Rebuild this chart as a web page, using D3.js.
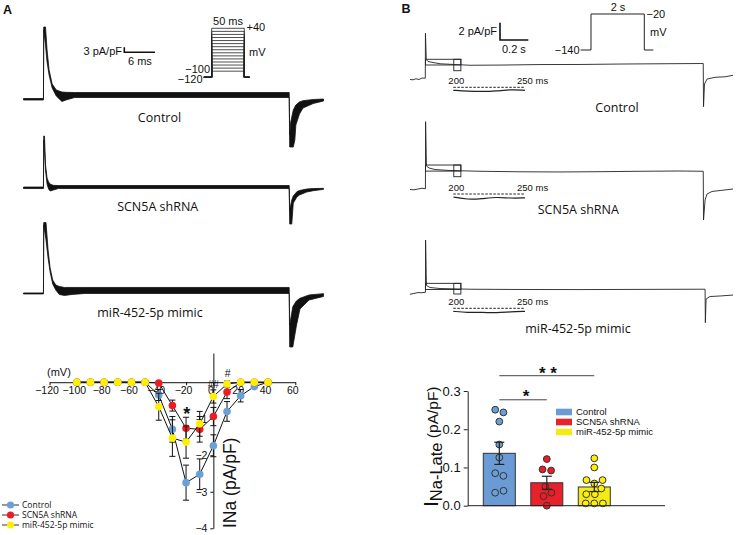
<!DOCTYPE html>
<html>
<head>
<meta charset="utf-8">
<script src="https://cdn.jsdelivr.net/npm/d3@7"></script>
<style>
  body { margin: 0; background: #fff; }
  svg { display: block; }
  text { font-family: "Liberation Sans", Arial, sans-serif; fill: #111; }
  .cal { font-family: "Open Sans", sans-serif; }
</style>
</head>
<body>
<div id="chart"></div>
<script>
// ---- I-V curve (panel A, bottom) ----
var ivVoltage = [-100, -90, -80, -70, -60, -50, -40, -30, -20, -10, 0, 10, 20, 30, 40];
var ivControl = [0, 0, 0, 0, 0, 0, -0.35, -1.29, -2.75, -2.52, -1.74, -0.80, -0.37, -0.12, 0];
var ivControlErr = [0, 0, 0, 0, 0, 0, 0.15, 0.35, 0.48, 0.42, 0.3, 0.27, 0.17, 0.06, 0];
var ivShrna = [0, 0, 0, 0, 0, 0, -0.02, -0.64, -1.26, -1.29, -0.94, -0.27, 0, 0, 0];
var ivShrnaErr = [0, 0, 0, 0, 0, 0, 0.05, 0.15, 0.3, 0.35, 0.25, 0.18, 0, 0, 0];
var ivMimic = [0, 0, 0, 0, 0, 0, -0.67, -1.53, -1.64, -1.14, -0.39, -0.05, 0, 0, 0];
var ivMimicErr = [0, 0, 0, 0, 0, 0, 0.37, 0.5, 0.44, 0.34, 0.18, 0.08, 0, 0, 0];
var ivTicks = [-120, -100, -80, -60, -40, -20, 0, 20, 40, 60];

// ---- late sodium current (panel B, bottom) ----
var lateGroups = ['Control', 'SCN5A shRNA', 'miR-452-5p mimic'];
var lateMean = [0.137, 0.060, 0.049];
var lateSem = [0.029, 0.017, 0.012];
var lateControl = [0.251, 0.244, 0.220, 0.160, 0.126, 0.085, 0.078, 0.039, 0.034];
var lateShrna = [0.122, 0.095, 0.092, 0.050, 0.034, 0.025, 0.0];
var lateMimic = [0.124, 0.100, 0.067, 0.067, 0.058, 0.045, 0.030, 0.030, 0.006, 0.006, 0.006];
var lateTicks = [0, 0.1, 0.2, 0.3];

// ---- peak current families, panel A (ms, pA/pF; upper / lower envelope) ----
var aCtrlT = [0, 3.9, 3.95, 4.3, 4.6, 5.0, 5.6, 6.4, 7.5, 8.3, 10, 51.9, 52.0, 52.2, 52.7, 53.0, 53.2, 53.9, 54.6, 56.6, 58.6];
var aCtrlHi = [0.3, 0.3, 43.2, 43.2, 29.4, 17.4, 9.0, 5.4, 4.2, 4.0, 3.9, 3.9, -21.6, -13.8, -6.6, -4.8, -3.6, -1.8, -1.0, -0.3, 0];
var aCtrlLo = [-0.6, -0.6, 41.4, 32.4, 22.2, 14.4, 6.6, 1.8, -1.5, -0.6, 0.9, 0.9, -28.8, -28.8, -28.8, -24.6, -15.6, -9.0, -5.4, -2.7, -1.2];
var aShT = [0, 3.9, 3.95, 4.1, 4.3, 4.6, 4.9, 5.2, 5.8, 6.8, 51.9, 52.0, 52.4, 52.7, 53.4, 53.9, 55.3, 56.6, 58.6];
var aShHi = [0.4, 0.4, 31.0, 31.0, 13.6, 5.8, 3.4, 2.2, 1.4, 1.3, 1.3, -13.4, -7.4, -5.0, -2.4, -1.7, -0.8, -0.5, -0.4];
var aShLo = [-0.5, -0.5, 28.6, 22.6, 10.6, 2.2, -0.8, -2.0, -1.4, -0.5, -0.5, -21.8, -21.8, -9.2, -5.6, -4.4, -2.6, -1.8, -1.0];
var aMiT = [0, 3.9, 3.95, 4.4, 4.8, 5.2, 5.7, 6.3, 7.0, 8.0, 9.5, 12, 51.9, 52.0, 52.6, 53.3, 54.0, 55.8, 58.6];
var aMiHi = [0.2, 0.2, 42.4, 42.4, 26.0, 15.2, 8.0, 5.0, 4.1, 3.5, 3.5, 3.5, 3.5, -19.0, -8.0, -4.6, -3.0, -1.0, -0.2];
var aMiLo = [-0.4, -0.4, 41.0, 32.0, 21.2, 12.8, 5.6, 2.0, -0.7, -1.3, -0.7, -0.1, -0.1, -32.2, -32.2, -19.6, -9.4, -4.0, -1.9];

// ---- late current traces, panel B (s, pA/pF) ----
var bCtrlT = [0, 0.021, 0.042, 0.064, 0.085, 0.108, 0.109, 0.115, 0.127, 0.155, 0.212, 0.296, 0.423, 0.635, 0.917, 1.2, 1.482, 1.764, 2.047, 2.069, 2.071, 2.078, 2.096, 2.152, 2.223, 2.279];
var bCtrlI = [-0.02, -0.06, 0.06, -0.02, 0.15, 0.12, 5.31, 2.28, 2.05, 1.96, 1.79, 1.72, 1.62, 1.64, 1.70, 1.71, 1.76, 1.79, 1.82, 1.82, -3.16, -0.54, 0.03, 0.23, 0.29, 0.46];
var bShT = [0, 0.028, 0.056, 0.085, 0.109, 0.110, 0.116, 0.134, 0.176, 0.282, 0.494, 0.776, 1.058, 1.341, 1.623, 1.905, 2.069, 2.071, 2.082, 2.096, 2.131, 2.188, 2.279];
var bShI = [-0.02, -0.06, 0.03, 0.12, 0.06, 7.80, 2.69, 2.46, 2.28, 2.17, 2.08, 2.02, 2.0, 2.03, 2.08, 2.11, 2.08, -3.54, -1.23, -0.54, -0.25, -0.14, 0.03];
var bMiT = [0, 0.028, 0.056, 0.078, 0.109, 0.110, 0.116, 0.141, 0.212, 0.423, 0.776, 1.2, 1.623, 2.047, 2.082, 2.084, 2.089, 2.117, 2.188, 2.279];
var bMiI = [-0.03, 0.06, 0.17, 0.14, 0.20, 6.23, 0.98, 0.75, 0.63, 0.55, 0.52, 0.51, 0.53, 0.55, 0.55, -3.31, -0.58, -0.29, -0.23, -0.12];
// zoomed 200-250 ms windows
var insetT = [200, 210, 220, 230, 240, 250];
var insetCtrl = [0, -0.1, -0.15, -0.1, 0.1, 0];
var insetSh = [0, -0.3, -0.2, 0, -0.15, -0.1];
var insetMi = [0, -0.15, -0.1, -0.2, -0.05, 0];

var blue = '#6b9fd8', red = '#ec1c24', yellow = '#fff000';
var barBlue = '#6a9bd5', barRed = '#e8212a', barYellow = '#f3ea18';

var W = 736, H = 535;
var svg = d3.select('#chart').append('svg').attr('width', W).attr('height', H);
svg.append('rect').attr('width', W).attr('height', H).attr('fill', '#fff');

function zip(t, a, b) {
  return t.map(function(d, i) { return {t: d, a: a[i], b: b ? b[i] : null}; });
}

// ================= panel A traces =================
svg.append('text').attr('x', 3).attr('y', 13.5).attr('font-size', 12.5).attr('font-weight', 'bold').text('A');

var tA = d3.scaleLinear().domain([0, 58.6]).range([23.5, 323.5]);
var rowsA = [
  {base: 99, t: aCtrlT, hi: aCtrlHi, lo: aCtrlLo, label: 'Control', lx: 159.5, ly: 121.5},
  {base: 187.7, t: aShT, hi: aShHi, lo: aShLo, label: 'SCN5A shRNA', lx: 157.7, ly: 210.5},
  {base: 293.3, t: aMiT, hi: aMiHi, lo: aMiLo, label: 'miR-452-5p mimic', lx: 150, ly: 317}
];
rowsA.forEach(function(r) {
  var y = d3.scaleLinear().domain([0, 10]).range([r.base, r.base - 16.67]);
  r.y = y;
  var area = d3.area().x(function(d) { return tA(d.t); })
    .y0(function(d) { return y(d.b); }).y1(function(d) { return y(d.a); });
  svg.append('path').datum(zip(r.t, r.hi, r.lo)).attr('d', area)
    .attr('fill', '#111').attr('stroke', '#111').attr('stroke-width', 0.8).attr('stroke-linejoin', 'round');
  svg.append('text').attr('class', 'cal').attr('x', r.lx).attr('y', r.ly)
    .attr('text-anchor', 'middle').attr('font-size', 12.5).text(r.label);
});

// scale bar A: 3 pA/pF, 6 ms
var sbx = 124.3, sby = 52.3;
svg.append('path').attr('fill', 'none').attr('stroke', '#111').attr('stroke-width', 1.6)
  .attr('d', 'M' + sbx + ',' + (sby - (rowsA[0].y(0) - rowsA[0].y(3))) + 'V' + sby + 'H' + (sbx + tA(6) - tA(0)));
svg.append('text').attr('x', 122).attr('y', 54.5).attr('text-anchor', 'end').attr('font-size', 11).text('3 pA/pF');
svg.append('text').attr('x', 128).attr('y', 65).attr('font-size', 11).text('6 ms');

// voltage protocol A
var pAx = d3.scaleLinear().domain([0, 50]).range([211.7, 244.3]);
var pAy = d3.scaleLinear().domain([-120, 40]).range([77.3, 28.3]);
var protoA = svg.append('g').attr('fill', 'none').attr('stroke', '#222').attr('stroke-width', 0.8);
ivVoltage.forEach(function(v) {
  protoA.append('path').attr('d', d3.line()([
    [pAx(-12), pAy(-120)], [pAx(0), pAy(-120)], [pAx(0), pAy(v)], [pAx(50), pAy(v)],
    [pAx(50), pAy(-120)], [pAx(58), pAy(-120)]
  ]));
});
svg.append('text').attr('x', 228).attr('y', 25).attr('text-anchor', 'middle').attr('font-size', 11).text('50 ms');
svg.append('text').attr('x', 246.5).attr('y', 31).attr('font-size', 11).text('+40');
svg.append('text').attr('x', 249).attr('y', 56).attr('font-size', 11).text('mV');
svg.append('text').attr('x', 210).attr('y', 73).attr('text-anchor', 'end').attr('font-size', 11).text('\u2212100');
svg.append('text').attr('x', 202.5).attr('y', 82.5).attr('text-anchor', 'end').attr('font-size', 11).text('\u2212120');

// ================= panel B traces =================
svg.append('text').attr('x', 401.5).attr('y', 13).attr('font-size', 12.5).attr('font-weight', 'bold').text('B');

var tB = d3.scaleLinear().domain([0, 2.279]).range([410, 733]);
var insetX = d3.scaleLinear().domain([200, 250]).range([453.3, 525]);
var rowsB = [
  {base: 79.3, t: bCtrlT, i: bCtrlI, boxTop: 2.31, boxLow: 1.65, boxBot: 0.99, dash: 87.3, ins: insetCtrl, label: 'Control', lx: 617, ly: 111.5},
  {base: 189.3, t: bShT, i: bShI, boxTop: 2.80, boxLow: 2.1, boxBot: 1.45, dash: 194, ins: insetSh, label: 'SCN5A shRNA', lx: 578.3, ly: 213.5},
  {base: 294, t: bMiT, i: bMiI, boxTop: 1.23, boxLow: 0.52, boxBot: 0, dash: 308.3, ins: insetMi, label: 'miR-452-5p mimic', lx: 578, ly: 332.5}
];
var stepStart = 0.109;
rowsB.forEach(function(r) {
  var y = d3.scaleLinear().domain([0, 1]).range([r.base, r.base - 8.67]);
  r.y = y;
  var line = d3.line().x(function(d) { return tB(d.t); }).y(function(d) { return y(d.a); });
  svg.append('path').datum(zip(r.t, r.i)).attr('d', line)
    .attr('fill', 'none').attr('stroke', '#222').attr('stroke-width', 0.9);
  // boxes marking 0-250 ms and 200-250 ms of the step
  svg.append('rect').attr('x', tB(stepStart)).attr('y', y(r.boxTop))
    .attr('width', tB(stepStart + 0.25) - tB(stepStart)).attr('height', y(r.boxLow) - y(r.boxTop))
    .attr('fill', 'none').attr('stroke', '#222').attr('stroke-width', 0.9);
  svg.append('rect').attr('x', tB(stepStart + 0.2)).attr('y', y(r.boxTop))
    .attr('width', tB(stepStart + 0.25) - tB(stepStart + 0.2)).attr('height', y(r.boxBot) - y(r.boxTop))
    .attr('fill', 'none').attr('stroke', '#222').attr('stroke-width', 0.9);
  // zoomed window
  svg.append('text').attr('x', insetX(200) + 3).attr('y', r.dash - 3).attr('text-anchor', 'middle').attr('font-size', 9.5).text('200');
  svg.append('text').attr('x', insetX(250) - 8).attr('y', r.dash - 3).attr('font-size', 9.5).text('250 ms');
  svg.append('line').attr('x1', insetX(200)).attr('x2', insetX(250)).attr('y1', r.dash).attr('y2', r.dash)
    .attr('stroke', '#222').attr('stroke-width', 1).attr('stroke-dasharray', '2.5,1.5');
  var iy = d3.scaleLinear().domain([0, 1]).range([r.dash + 3, r.dash + 3 - 8.67]);
  svg.append('path').datum(zip(insetT, r.ins))
    .attr('d', d3.line().curve(d3.curveBasis).x(function(d) { return insetX(d.t); }).y(function(d) { return iy(d.a); }))
    .attr('fill', 'none').attr('stroke', '#222').attr('stroke-width', 1.2);
  svg.append('text').attr('class', 'cal').attr('x', r.lx).attr('y', r.ly)
    .attr('text-anchor', 'middle').attr('font-size', 12.5).text(r.label);
});

// scale bar B: 2 pA/pF, 0.2 s
var sb2x = 500, sb2y = 40;
svg.append('path').attr('fill', 'none').attr('stroke', '#111').attr('stroke-width', 1.6)
  .attr('d', 'M' + sb2x + ',' + (sb2y - (rowsB[0].y(0) - rowsB[0].y(2))) + 'V' + sb2y + 'H' + (sb2x + tB(0.2) - tB(0)));
svg.append('text').attr('x', 497).attr('y', 34.5).attr('text-anchor', 'end').attr('font-size', 11).text('2 pA/pF');
svg.append('text').attr('x', 502).attr('y', 52.5).attr('font-size', 11).text('0.2 s');

// voltage protocol B
var pBx = d3.scaleLinear().domain([0, 2]).range([591, 644.3]);
var pBy = d3.scaleLinear().domain([-140, -20]).range([50, 14]);
svg.append('path').attr('fill', 'none').attr('stroke', '#222').attr('stroke-width', 1)
  .attr('d', d3.line()([[pBx(-0.39), pBy(-140)], [pBx(0), pBy(-140)], [pBx(0), pBy(-20)],
    [pBx(2), pBy(-20)], [pBx(2), pBy(-140)], [pBx(2.34), pBy(-140)]]));
svg.append('text').attr('x', 618).attr('y', 11).attr('text-anchor', 'middle').attr('font-size', 11).text('2 s');
svg.append('text').attr('x', 646.5).attr('y', 17.5).attr('font-size', 11).text('\u221220');
svg.append('text').attr('x', 650).attr('y', 35.5).attr('font-size', 11).text('mV');
svg.append('text').attr('x', 579.5).attr('y', 53.5).attr('text-anchor', 'end').attr('font-size', 11).text('\u2212140');

// ================= I-V plot =================
var x = d3.scaleLinear().domain([-120, 60]).range([49.5, 295.3]);
var y = d3.scaleLinear().domain([-4, 0.8]).range([528.3, 353]);

var yAx = svg.append('g').attr('transform', 'translate(' + x(0) + ',0)')
  .call(d3.axisLeft(y).tickValues([-1, -2, -3, -4]).tickFormat(d3.format('d')).tickSize(3).tickSizeOuter(0));
yAx.selectAll('text').attr('font-size', 10.5).attr('font-family', '"Liberation Sans", Arial, sans-serif').attr('fill', '#111');
yAx.selectAll('path,line').attr('stroke', '#111');

var xAx = svg.append('g').attr('transform', 'translate(0,' + y(0) + ')')
  .call(d3.axisBottom(x).tickValues(ivTicks).tickSize(3).tickSizeOuter(0));
xAx.selectAll('text').attr('font-size', 10.5).attr('dx', '-3').attr('dy', '0.55em')
  .attr('font-family', '"Liberation Sans", Arial, sans-serif').attr('fill', '#111');
xAx.selectAll('path,line').attr('stroke', '#111');

svg.append('text').attr('x', 47).attr('y', 376).attr('font-size', 11).text('(mV)');

var ivSeries = [
  {v: ivControl, e: ivControlErr, c: blue, name: 'Control'},
  {v: ivShrna, e: ivShrnaErr, c: red, name: 'SCN5A shRNA'},
  {v: ivMimic, e: ivMimicErr, c: yellow, name: 'miR-452-5p mimic'}
];
ivSeries.forEach(function(s) {
  var pts = ivVoltage.map(function(v, i) { return {v: v, m: s.v[i], e: s.e[i]}; });
  svg.append('path').datum(pts)
    .attr('d', d3.line().x(function(d) { return x(d.v); }).y(function(d) { return y(d.m); }))
    .attr('fill', 'none').attr('stroke', '#111').attr('stroke-width', 1);
  var eb = svg.append('g').attr('stroke', '#111').attr('stroke-width', 1);
  pts.filter(function(d) { return d.e > 0.06; }).forEach(function(d) {
    var cx = x(d.v);
    eb.append('line').attr('x1', cx).attr('x2', cx).attr('y1', y(d.m - d.e)).attr('y2', y(d.m + d.e));
    eb.append('line').attr('x1', cx - 3).attr('x2', cx + 3).attr('y1', y(d.m - d.e)).attr('y2', y(d.m - d.e));
    eb.append('line').attr('x1', cx - 3).attr('x2', cx + 3).attr('y1', y(d.m + d.e)).attr('y2', y(d.m + d.e));
  });
  svg.append('g').selectAll('circle').data(pts).enter().append('circle')
    .attr('cx', function(d) { return x(d.v); }).attr('cy', function(d) { return y(d.m); })
    .attr('r', 3.8).attr('fill', s.c);
});

svg.append('text').attr('x', 186.7).attr('y', 419.5).attr('text-anchor', 'middle').attr('font-size', 18).attr('font-weight', 'bold').text('*');
svg.append('text').attr('x', 213.3).attr('y', 388).attr('text-anchor', 'middle').attr('font-size', 10).text('##');
svg.append('text').attr('x', 227.7).attr('y', 377).attr('text-anchor', 'middle').attr('font-size', 10.5).text('#');

svg.append('text').attr('transform', 'translate(235.5,528) rotate(-90)').attr('font-size', 17.5).text('INa (pA/pF)');

// I-V legend
ivSeries.forEach(function(s, i) {
  var ly = 505 + i * 10;
  svg.append('line').attr('x1', 2).attr('x2', 19).attr('y1', ly).attr('y2', ly).attr('stroke', '#333').attr('stroke-width', 1);
  svg.append('circle').attr('cx', 10.5).attr('cy', ly).attr('r', 3.6).attr('fill', s.c);
  svg.append('text').attr('class', 'cal').attr('x', 22).attr('y', ly + 3).attr('font-size', 8.5).text(s.name);
});

// ================= late current bar chart =================
var bx = d3.scaleBand().domain(lateGroups).range([483.3, 610.3]).paddingInner(0.326).paddingOuter(0);
var by = d3.scaleLinear().domain([0, 0.3]).range([505.7, 391]);
var barColors = [barBlue, barRed, barYellow];
var dotColors = [blue, red, yellow];
var lateDots = [lateControl, lateShrna, lateMimic];

lateGroups.forEach(function(g, i) {
  svg.append('rect').attr('x', bx(g)).attr('y', by(lateMean[i]))
    .attr('width', bx.bandwidth()).attr('height', by(0) - by(lateMean[i]))
    .attr('fill', barColors[i]).attr('stroke', '#333').attr('stroke-width', 1);
});

lateGroups.forEach(function(g, i) {
  var cx = bx(g) + bx.bandwidth() / 2;
  var nodes = lateDots[i].map(function(v) { return {x: cx, y: by(v), fy: by(v)}; });
  var sim = d3.forceSimulation(nodes)
    .force('x', d3.forceX(cx).strength(0.08))
    .force('c', d3.forceCollide(4.3))
    .stop();
  for (var k = 0; k < 250; k++) sim.tick();
  svg.append('g').selectAll('circle').data(nodes).enter().append('circle')
    .attr('cx', function(d) { return d.x; }).attr('cy', function(d) { return d.fy; })
    .attr('r', 3.4).attr('fill', dotColors[i]).attr('stroke', '#333').attr('stroke-width', 1);
  // error bar
  var eb = svg.append('g').attr('stroke', '#222').attr('stroke-width', 1.2);
  var top = by(lateMean[i] + lateSem[i]), bot = by(lateMean[i] - lateSem[i]);
  eb.append('line').attr('x1', cx).attr('x2', cx).attr('y1', top).attr('y2', bot);
  eb.append('line').attr('x1', cx - 5).attr('x2', cx + 5).attr('y1', top).attr('y2', top);
  eb.append('line').attr('x1', cx - 5).attr('x2', cx + 5).attr('y1', bot).attr('y2', bot);
});

var byAx = svg.append('g').attr('transform', 'translate(467.7,0)')
  .call(d3.axisLeft(by).tickValues(lateTicks).tickFormat(d3.format('.1f')).tickSize(4).tickSizeOuter(0));
byAx.selectAll('text').attr('font-size', 13).attr('font-family', '"Liberation Sans", Arial, sans-serif').attr('fill', '#111');
byAx.selectAll('path,line').attr('stroke', '#222');
svg.append('line').attr('x1', 467.7).attr('x2', 665).attr('y1', by(0)).attr('y2', by(0)).attr('stroke', '#222');

var yl = svg.append('text').attr('transform', 'translate(438,507) rotate(-90)');
yl.append('tspan').attr('font-size', 21).text('I');
yl.append('tspan').attr('font-size', 16.5).attr('dy', 4).text('Na-Late');
yl.append('tspan').attr('font-size', 15.5).attr('dy', -4).text(' (pA/pF)');

// significance
function cxOf(g) { return bx(g) + bx.bandwidth() / 2; }
svg.append('line').attr('x1', cxOf(lateGroups[0])).attr('x2', cxOf(lateGroups[1]))
  .attr('y1', by(0.277)).attr('y2', by(0.277)).attr('stroke', '#444');
svg.append('line').attr('x1', cxOf(lateGroups[0])).attr('x2', cxOf(lateGroups[2]))
  .attr('y1', by(0.34)).attr('y2', by(0.34)).attr('stroke', '#444');
svg.append('text').attr('x', 526).attr('y', 401.5).attr('text-anchor', 'middle').attr('font-size', 17).attr('font-weight', 'bold').text('*');
svg.append('text').attr('x', 548).attr('y', 379).attr('text-anchor', 'middle').attr('font-size', 17).attr('font-weight', 'bold').text('* *');

// bar legend
lateGroups.forEach(function(g, i) {
  var ly = 412 + i * 10;
  svg.append('rect').attr('x', 556).attr('y', ly - 3.3).attr('width', 16).attr('height', 6.6).attr('fill', barColors[i]);
  svg.append('text').attr('x', 576).attr('y', ly + 3.3).attr('font-size', 9.5).text(g);
});
</script>
</body>
</html>
